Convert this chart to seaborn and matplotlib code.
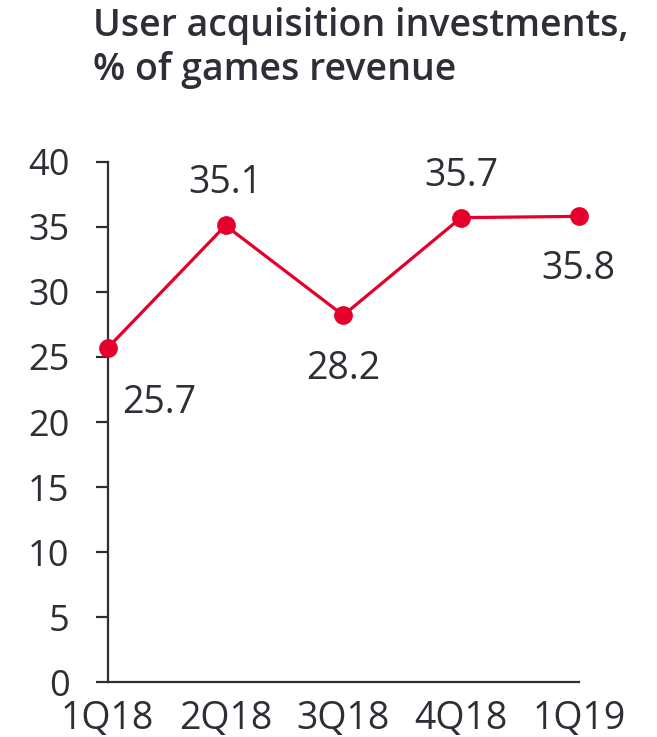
import matplotlib
matplotlib.use("Agg")
import matplotlib.pyplot as plt
import seaborn as sns
import pandas as pd

quarters = ["1Q18", "2Q18", "3Q18", "4Q18", "1Q19"]
ua_share = [25.7, 35.1, 28.2, 35.7, 35.8]
y_ticks = [0, 5, 10, 15, 20, 25, 30, 35, 40]

sns.set_theme(style="white")
plt.rcParams["font.family"] = ["Open Sans", "DejaVu Sans"]

RED = "#e4002b"
INK = "#2e2f36"

df = pd.DataFrame({"pos": range(len(quarters)), "quarter": quarters, "value": ua_share})

fig = plt.figure(figsize=(6.57, 7.37), dpi=100)
ax = fig.add_axes([0.164, 0.0742, 0.717, 0.7064])

sns.lineplot(data=df, x="pos", y="value", ax=ax, color=RED, linewidth=2.3,
             marker="o", markersize=13.5, markeredgewidth=0, clip_on=False,
             zorder=5)

ax.set_xlim(0, len(quarters) - 1)
ax.set_ylim(0, 40)
ax.set_yticks(y_ticks)
ax.set_xticks(df["pos"])
ax.set_xticklabels(quarters)
ax.set_xlabel("")
ax.set_ylabel("")

for side in ("top", "right"):
    ax.spines[side].set_visible(False)
for side in ("left", "bottom"):
    ax.spines[side].set_color(INK)
    ax.spines[side].set_linewidth(1.6)

ax.tick_params(axis="y", length=8.6, width=1.6, color=INK, labelsize=26,
               labelcolor=INK, pad=19, left=True)
ax.tick_params(axis="x", length=0, labelsize=27, labelcolor=INK, pad=13)

# value labels: baseline offset (pixels) from each point
offsets = [(51, -65), (0, 32), (0, -64), (0, 32), (0, -63)]
for (dx, dy), x, v in zip(offsets, df["pos"], ua_share):
    ax.annotate(f"{v}", (x, v), xytext=(dx, dy), textcoords="offset pixels",
                ha="center", va="baseline", fontsize=27, color=INK)

fig.text(93 / 657, 1 - 7 / 737,
         "User acquisition investments,\n% of games revenue",
         ha="left", va="top", fontsize=27, fontweight="semibold", color=INK,
         linespacing=1.2)

fig.savefig("out.png", dpi=100)
